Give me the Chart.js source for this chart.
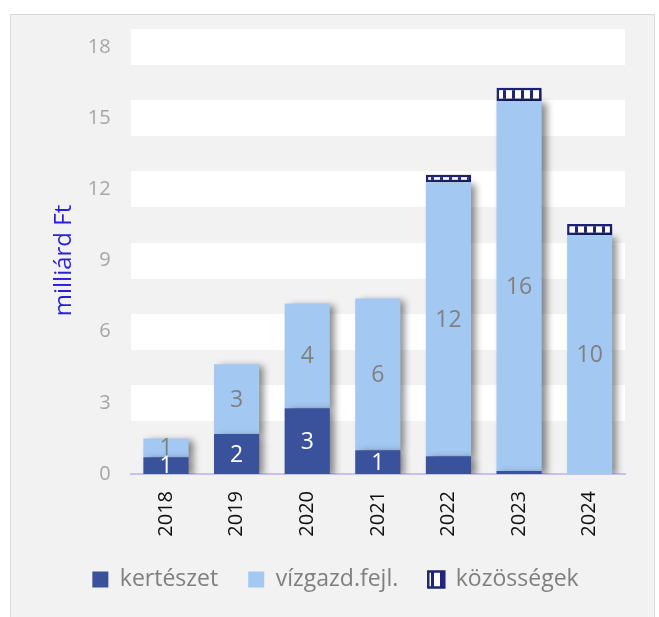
<!DOCTYPE html>
<html>
<head>
<meta charset="utf-8">
<script src="https://cdn.jsdelivr.net/npm/chart.js@4.4.1/dist/chart.umd.min.js"></script>
<style>
    body { margin: 0; background: #ffffff; }
    #box {
        position: absolute;
        left: 10px;
        top: 14px;
        width: 643px;
        height: 610px;
        background: #f2f2f2;
        border: 1px solid #dadada;
    }
</style>
</head>
<body>
<div id="box"><canvas id="chart"></canvas></div>
<script>
const years = ['2018', '2019', '2020', '2021', '2022', '2023', '2024'];
const kerteszet = [0.71, 1.69, 2.77, 1.0, 0.75, 0.13, 0];
const vizgazd = [0.79, 2.94, 4.42, 6.40, 11.55, 15.59, 10.08];
const kozossegek = [0, 0, 0, 0, 0.31, 0.56, 0.46];
const kerteszetLabelShown = [true, true, true, true, false, false, false];
const yTicks = [0, 3, 6, 9, 12, 15, 18];

const darkBlue = '#3a529b';
const lightBlue = '#a3c8f2';
const navy = '#1f2478';

// vertical stripes for the "közösségek" segments
function stripePattern() {
    const c = document.createElement('canvas');
    c.width = 9;
    c.height = 10;
    const g = c.getContext('2d');
    g.fillStyle = '#ffffff';
    g.fillRect(0, 0, 9, 10);
    g.fillStyle = navy;
    g.fillRect(6, 0, 3, 10);
    return g.createPattern(c, 'repeat');
}

const canvas = document.getElementById('chart');
const ctx = canvas.getContext('2d');
const hatch = stripePattern();

const barShadow = {
    id: 'barShadow',
    beforeDatasetsDraw(chart) {
        const c = chart.ctx;
        c.save();
        c.shadowColor = 'rgba(0,0,0,0.45)';
        c.shadowBlur = 7;
        c.shadowOffsetX = 5;
        c.shadowOffsetY = 2;
    },
    afterDatasetsDraw(chart) {
        chart.ctx.restore();
    }
};

const valueLabels = {
    id: 'valueLabels',
    afterDatasetsDraw(chart) {
        const c = chart.ctx;
        c.save();
        c.font = '23px "Open Sans"';
        c.textAlign = 'center';
        c.textBaseline = 'middle';
        [0, 1].forEach(di => {
            const meta = chart.getDatasetMeta(di);
            const values = chart.data.datasets[di].data;
            meta.data.forEach((bar, i) => {
                if (di === 0 && !kerteszetLabelShown[i]) return;
                const p = bar.getProps(['x', 'y', 'base'], true);
                c.fillStyle = di === 0 ? '#ffffff' : '#808080';
                c.fillText(String(Math.round(values[i])), p.x, (p.y + p.base) / 2 + 1);
            });
        });
        c.restore();
    }
};

new Chart(ctx, {
    type: 'bar',
    data: {
        labels: years,
        datasets: [
            {
                label: 'kertészet',
                data: kerteszet,
                backgroundColor: darkBlue,
                borderWidth: 0
            },
            {
                label: 'vízgazd.fejl.',
                data: vizgazd,
                backgroundColor: lightBlue,
                borderWidth: 0
            },
            {
                label: 'közösségek',
                data: kozossegek,
                backgroundColor: hatch,
                borderColor: navy,
                borderWidth: 2.5,
                borderSkipped: false
            }
        ]
    },
    options: {
        responsive: true,
        maintainAspectRatio: false,
        animation: false,
        layout: {
            padding: { left: 35, right: 29, top: 16, bottom: 24 }
        },
        datasets: {
            bar: {
                categoryPercentage: 1,
                barPercentage: 0.64
            }
        },
        plugins: {
            legend: {
                position: 'bottom',
                labels: {
                    boxWidth: 16,
                    boxHeight: 16,
                    padding: 30,
                    color: '#7f7f7f',
                    font: { family: 'Open Sans', size: 23 }
                }
            },
            tooltip: { enabled: false }
        },
        scales: {
            x: {
                stacked: true,
                grid: { display: false, drawTicks: false },
                border: { display: true, color: '#c8bff4', width: 2 },
                ticks: {
                    color: '#111111',
                    minRotation: 90,
                    maxRotation: 90,
                    padding: 17,
                    font: { family: 'Open Sans', size: 20 }
                },
                afterFit(scale) {
                    scale.height = 64;
                }
            },
            y: {
                stacked: true,
                min: 0,
                max: 18,
                afterBuildTicks(scale) {
                    scale.ticks = yTicks.map(v => ({ value: v }));
                },
                grid: {
                    drawTicks: false,
                    color: c => (c.tick && c.tick.value === 0 ? 'rgba(0,0,0,0)' : '#ffffff'),
                    lineWidth: c => (c.tick && c.tick.value === 0 ? 0 : 36)
                },
                border: { display: false },
                ticks: {
                    color: '#a6a6a6',
                    padding: 20,
                    font: { family: 'Open Sans', size: 20 }
                },
                title: {
                    display: true,
                    text: 'milliárd Ft',
                    color: '#2a1fd8',
                    padding: { top: 4, bottom: -11 },
                    font: { family: 'Open Sans', size: 24 }
                }
            }
        }
    },
    plugins: [barShadow, valueLabels]
});
</script>
</body>
</html>
